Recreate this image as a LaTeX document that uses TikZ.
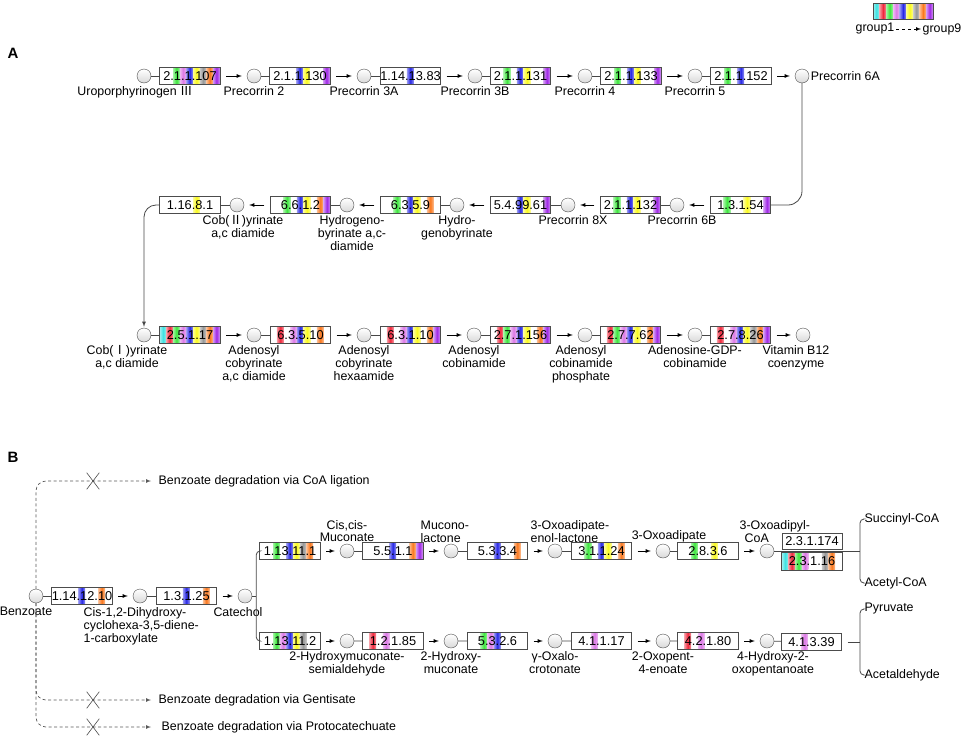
\documentclass[tikz,border=0pt]{standalone}
\usepackage{fontspec}
\setmainfont{Liberation Sans}
\newfontfamily\cjk{Noto Sans CJK SC}
\usetikzlibrary{
    calc,
    arrows,
    shapes.misc,
    positioning
}
\definecolor{grp1}{RGB}{60,225,225}
\definecolor{grp2}{RGB}{240,40,60}
\definecolor{grp3}{RGB}{60,230,60}
\definecolor{grp4}{RGB}{220,120,230}
\definecolor{grp5}{RGB}{40,40,230}
\definecolor{grp6}{RGB}{250,250,30}
\definecolor{grp7}{RGB}{150,150,150}
\definecolor{grp8}{RGB}{250,120,30}
\definecolor{grp9}{RGB}{160,40,230}
\tikzset{cpd/.style={circle, minimum size=14pt, inner sep=0pt, draw=gray!60!black, top color=white, bottom color=gray!30}}
\tikzset{enz/.style={rectangle, minimum width=60pt, minimum height=17pt, inner sep=0pt, fill=white}}
\tikzset{ectext/.style={inner sep=0pt, font=\fontsize{12.8}{13}\selectfont}}
\tikzset{boxedge/.style={draw=gray!60!black, line width=0.8pt}}
\tikzset{lbl/.style={inner sep=1.5pt, align=center, font=\fontsize{12.4}{12.8}\selectfont}}
\tikzset{link/.style={draw=gray!55!black, line width=0.8pt}}
\tikzset{flow/.style={-latex, line width=0.8pt, shorten <=6pt, shorten >=5pt}}
\tikzset{dashline/.style={draw=gray!70!black, line width=0.7pt, dash pattern=on 3pt off 2.5pt}}
\tikzset{xmark/.style={cross out, draw=gray!60!black, line width=0.6pt, minimum width=12pt, minimum height=16pt, inner sep=0pt}}
% enzyme box: name, position, EC number, groups
\newcommand{\ecbox}[4]{%
    \node[enz] (#1) at (#2) {};
    \foreach \gi in {#4}{
        \shade[left color=grp\gi!50!white, right color=grp\gi!50!white, middle color=grp\gi]
        ($(#1.north west)+({(\gi-1)*60/9},0)$) rectangle ++(60/9,17);
    }
    \node[ectext] (#1t) at (#1) {#3};
    \draw[boxedge] (#1.north west) rectangle (#1.south east);
}

\begin{document}
\begin{tikzpicture}[x=1pt, y=-1pt]
    \useasboundingbox (0,0) rectangle (964,739);

    % legend
    \foreach \gi in {1,...,9}
        \shade[left color=grp\gi!50!white, right color=grp\gi!50!white, middle color=grp\gi]
        ({873+(\gi-1)*60/9},3) rectangle ++(60/9,16);
    \draw[boxedge] (873,3) rectangle (933,19);
    \node[lbl, anchor=west] (leg1) at (854,29) {group1};
    \node[lbl, anchor=east] (leg9) at (963,29) {group9};
    \draw[dashed, -latex, line width=0.7pt] (leg1.east) -- (leg9.west);

    \node[font=\fontsize{15}{15}\selectfont\bfseries] (secA) at (13,53) {A};
    \node[font=\fontsize{15}{15}\selectfont\bfseries] (secB) at (13,457) {B};

    % A, first row
    \node[cpd] (uro) at (144,76) {};
    \ecbox{e1}{190,76}{2.1.1.107}{3,4,5,6,7,8,9}
    \node[cpd] (pc2) at (254,76) {};
    \ecbox{e2}{300,76}{2.1.1.130}{5,6,9}
    \node[cpd] (pc3a) at (364,76) {};
    \ecbox{e3}{410.5,76}{1.14.13.83}{5}
    \node[cpd] (pc3b) at (475,76) {};
    \ecbox{e4}{520.5,76}{2.1.1.131}{3,5,6,9}
    \node[cpd] (pc4) at (585,76) {};
    \ecbox{e5}{631,76}{2.1.1.133}{3,5,6,9}
    \node[cpd] (pc5) at (695,76) {};
    \ecbox{e6}{741,76}{2.1.1.152}{3,5}
    \node[cpd] (pc6a) at (802,76) {};

    \node[lbl, below=2pt, xshift=-9pt] (uroL) at (uro.south) {Uroporphyrinogen {\cjk Ⅲ}};
    \node[lbl, below=2pt] (pc2L) at (pc2.south) {Precorrin 2};
    \node[lbl, below=2pt] (pc3aL) at (pc3a.south) {Precorrin 3A};
    \node[lbl, below=2pt] (pc3bL) at (pc3b.south) {Precorrin 3B};
    \node[lbl, below=2pt] (pc4L) at (pc4.south) {Precorrin 4};
    \node[lbl, below=2pt] (pc5L) at (pc5.south) {Precorrin 5};
    \node[lbl, right] (pc6aL) at (pc6a.east) {Precorrin 6A};

    \draw[link] (uro) -- (e1) (pc2) -- (e2) (pc3a) -- (e3)
    (pc3b) -- (e4) (pc4) -- (e5) (pc5) -- (e6);
    \draw[flow] (e1.east) -- (pc2.west);
    \draw[flow] (e2.east) -- (pc3a.west);
    \draw[flow] (e3.east) -- (pc3b.west);
    \draw[flow] (e4.east) -- (pc4.west);
    \draw[flow] (e5.east) -- (pc5.west);
    \draw[flow] (e6.east) -- (pc6a.west);

    % A, second row
    \ecbox{e7}{740.5,205}{1.3.1.54}{3,6,9}
    \node[cpd] (pc6b) at (677,205) {};
    \ecbox{e8}{630.5,205}{2.1.1.132}{3,5,6,9}
    \node[cpd] (pc8x) at (568,205) {};
    \ecbox{e9}{520.5,205}{5.4.99.61}{5,6,9}
    \node[cpd] (hby) at (457,205) {};
    \ecbox{e10}{410.5,205}{6.3.5.9}{3,5,6,8}
    \node[cpd] (hbyd) at (347,205) {};
    \ecbox{e11}{300.5,205}{6.6.1.2}{3,5,6,8,9}
    \node[cpd] (cob2) at (237,205) {};
    \ecbox{e12}{190,205}{1.16.8.1}{6}

    \node[lbl, below=2pt, xshift=5pt] (pc6bL) at (pc6b.south) {Precorrin 6B};
    \node[lbl, below=2pt, xshift=5pt] (pc8xL) at (pc8x.south) {Precorrin 8X};
    \node[lbl, below=2pt] (hbyL) at (hby.south) {Hydro-\\genobyrinate};
    \node[lbl, below=2pt, xshift=5pt] (hbydL) at (hbyd.south) {Hydrogeno-\\byrinate a,c-\\diamide};
    \node[lbl, below=2pt, xshift=6pt] (cob2L) at (cob2.south) {Cob({\cjk Ⅱ})yrinate\\a,c diamide};

    \draw[link, rounded corners=14pt] (pc6a.south) |- (e7.east);
    \draw[link] (pc6b) -- (e8) (pc8x) -- (e9) (hby) -- (e10)
    (hbyd) -- (e11) (cob2) -- (e12);
    \draw[flow] (e7.west) -- (pc6b.east);
    \draw[flow] (e8.west) -- (pc8x.east);
    \draw[flow] (e9.west) -- (hby.east);
    \draw[flow] (e10.west) -- (hbyd.east);
    \draw[flow] (e11.west) -- (cob2.east);

    % A, third row
    \node[cpd] (cob1) at (144,335) {};
    \ecbox{e13}{190,335}{2.5.1.17}{1,2,3,4,5,6,7,8,9}
    \node[cpd] (ado1) at (254,335) {};
    \ecbox{e14}{300.5,335}{6.3.5.10}{2,4,5,6,8}
    \node[cpd] (ado2) at (364,335) {};
    \ecbox{e15}{410.5,335}{6.3.1.10}{2,4,5,6,8,9}
    \node[cpd] (ado3) at (474,335) {};
    \ecbox{e16}{520.5,335}{2.7.1.156}{2,3,4,5,6,8,9}
    \node[cpd] (ado4) at (585,335) {};
    \ecbox{e17}{630.5,335}{2.7.7.62}{2,3,4,5,6,8,9}
    \node[cpd] (agdp) at (695,335) {};
    \ecbox{e18}{740.5,335}{2.7.8.26}{2,4,5,6,7,8,9}
    \node[cpd] (b12) at (803,335) {};

    \node[lbl, below=2pt, xshift=-17pt] (cob1L) at (cob1.south) {Cob({\cjk Ⅰ})yrinate\\a,c diamide};
    \node[lbl, below=2pt] (ado1L) at (ado1.south) {Adenosyl\\cobyrinate\\a,c diamide};
    \node[lbl, below=2pt] (ado2L) at (ado2.south) {Adenosyl\\cobyrinate\\hexaamide};
    \node[lbl, below=2pt] (ado3L) at (ado3.south) {Adenosyl\\cobinamide};
    \node[lbl, below=2pt, xshift=-4pt] (ado4L) at (ado4.south) {Adenosyl\\cobinamide\\phosphate};
    \node[lbl, below=2pt] (agdpL) at (agdp.south) {Adenosine-GDP-\\cobinamide};
    \node[lbl, below=2pt, xshift=-7pt] (b12L) at (b12.south) {Vitamin B12\\coenzyme};

    \draw[link, -latex, rounded corners=12pt, shorten >=1pt] (e12.west) -| (cob1.north);
    \draw[link] (cob1) -- (e13) (ado1) -- (e14) (ado2) -- (e15)
    (ado3) -- (e16) (ado4) -- (e17) (agdp) -- (e18);
    \draw[flow] (e13.east) -- (ado1.west);
    \draw[flow] (e14.east) -- (ado2.west);
    \draw[flow] (e15.east) -- (ado3.west);
    \draw[flow] (e16.east) -- (ado4.west);
    \draw[flow] (e17.east) -- (agdp.west);
    \draw[flow] (e18.east) -- (b12.west);

    % B, benzoate to catechol
    \node[cpd] (bz) at (36,596) {};
    \ecbox{e19}{82,596}{1.14.12.10}{5,8}
    \node[cpd] (cdh) at (140,596) {};
    \ecbox{e20}{186.5,596}{1.3.1.25}{5,8}
    \node[cpd] (cat) at (245,596) {};

    \node[lbl, below=2.5pt, xshift=-10pt] (bzL) at (bz.south) {Benzoate};
    \node[lbl, anchor=north west, align=left] (cdhL) at (82,606) {Cis-1,2-Dihydroxy-\\cyclohexa-3,5-diene-\\1-carboxylate};
    \node[lbl, below=2.5pt, xshift=-7pt] (catL) at (cat.south) {Catechol};

    \draw[link] (bz) -- (e19) (cdh) -- (e20);
    \draw[flow] (e19.east) -- (cdh.west);
    \draw[flow] (e20.east) -- (cat.west);

    % B, ortho cleavage
    \ecbox{e21}{290,551}{1.13.11.1}{3,5,6,7,8}
    \node[cpd] (ccm) at (347,551) {};
    \ecbox{e22}{393,551}{5.5.1.1}{5,8,9}
    \node[cpd] (mlac) at (451,551) {};
    \ecbox{e23}{497.5,551}{5.3.3.4}{5,8}
    \node[cpd] (oel) at (555,551) {};
    \ecbox{e24}{601.5,551}{3.1.1.24}{3,5,6,8}
    \node[cpd] (oxa) at (663,551) {};
    \ecbox{e25}{708,551}{2.8.3.6}{3,6}
    \node[cpd] (oxcoa) at (767,551) {};
    \coordinate (j1) at (860,551);
    \draw[link] (oxcoa) -- (j1);
    \node[enz, draw=gray!60!black, line width=0.8pt, minimum height=16pt, font=\fontsize{12.8}{13}\selectfont] (e26) at (812,541) {2.3.1.174};
    \ecbox{e27}{812,561.5}{2.3.1.16}{1,2,3,4,7,8}

    \node[lbl, above] (ccmL) at (ccm.north) {Cis,cis-\\Muconate};
    \node[lbl, anchor=south west, align=left] (mlacL) at (419,544) {Mucono-\\lactone};
    \node[lbl, anchor=south west, align=left] (oelL) at (529,544) {3-Oxoadipate-\\enol-lactone};
    \node[lbl, above, xshift=6pt] (oxaL) at (oxa.north) {3-Oxoadipate};
    \node[lbl, anchor=south west, align=left] (oxcoaL) at (738,544) {3-Oxoadipyl-\\\hspace*{5pt}CoA};
    \node[lbl, anchor=west] (suc) at (863,519) {Succinyl-CoA};
    \node[lbl, anchor=west] (acet) at (863,583) {Acetyl-CoA};

    \draw[link] (ccm) -- (e22) (mlac) -- (e23) (oel) -- (e24) (oxa) -- (e25);
    \draw[flow] (e21.east) -- (ccm.west);
    \draw[flow] (e22.east) -- (mlac.west);
    \draw[flow] (e23.east) -- (oel.west);
    \draw[flow] (e24.east) -- (oxa.west);
    \draw[flow] (e25.east) -- (oxcoa.west);
    \draw[link, rounded corners=4pt] (suc.west) -| (j1) |- (acet.west);

    % B, meta cleavage
    \ecbox{e28}{290,641}{1.13.11.2}{3,4,5,6,7}
    \node[cpd] (hms) at (347,641) {};
    \ecbox{e29}{393,641}{1.2.1.85}{2,4}
    \node[cpd] (hm) at (451,641) {};
    \ecbox{e30}{497.5,641}{5.3.2.6}{3,4,5}
    \node[cpd] (goc) at (555,641) {};
    \ecbox{e31}{601.5,641}{4.1.1.17}{4}
    \node[cpd] (ope) at (663,641) {};
    \ecbox{e32}{708,641}{4.2.1.80}{2,4}
    \node[cpd] (hop) at (767,641) {};
    \ecbox{e33}{811.5,642}{4.1.3.39}{4}
    \coordinate (j2) at (860,642);

    \draw[link, rounded corners=4pt] (e21.west) -| ($(cat.east)+(4,0)$) |- (e28.west);
    \draw[link] (cat.east) -- ++(4,0);

    \node[lbl, below=2pt] (hmsL) at (hms.south) {2-Hydroxymuconate-\\semialdehyde};
    \node[lbl, below=2pt] (hmL) at (hm.south) {2-Hydroxy-\\muconate};
    \node[lbl, below=2pt] (gocL) at (goc.south) {γ-Oxalo-\\crotonate};
    \node[lbl, below=2pt] (opeL) at (ope.south) {2-Oxopent-\\4-enoate};
    \node[lbl, below=2pt, xshift=6pt] (hopL) at (hop.south) {4-Hydroxy-2-\\oxopentanoate};
    \node[lbl, anchor=west] (pyr) at (863,609) {Pyruvate};
    \node[lbl, anchor=west] (acd) at (863,675) {Acetaldehyde};

    \draw[link] (hms) -- (e29) (hm) -- (e30) (goc) -- (e31)
    (ope) -- (e32) (hop) -- (e33);
    \draw[flow] (e28.east) -- (hms.west);
    \draw[flow] (e29.east) -- (hm.west);
    \draw[flow] (e30.east) -- (goc.west);
    \draw[flow] (e31.east) -- (ope.west);
    \draw[flow] (e32.east) -- (hop.west);
    \draw[link, shorten <=6pt] (e33.east) -- (j2);
    \draw[link, rounded corners=4pt] (pyr.west) -| (j2) |- (acd.west);

    % B, blocked routes
    \node[lbl, anchor=west] (pcoa) at (157,481) {Benzoate degradation via CoA ligation};
    \node[lbl, anchor=west] (pgen) at (157,700) {Benzoate degradation via Gentisate};
    \node[lbl, anchor=west] (ppro) at (160,727) {Benzoate degradation via Protocatechuate};
    \draw[dashline, -latex, rounded corners=10pt, shorten >=6pt] (bz.north) |- (pcoa.west);
    \draw[dashline, -latex, rounded corners=10pt, shorten >=6pt] (bz.south) |- (pgen.west);
    \draw[dashline, -latex, rounded corners=10pt, shorten >=9pt] (bz.south) |- (ppro.west);
    \node[xmark] (x1) at (93,481) {};
    \node[xmark] (x2) at (93,700) {};
    \node[xmark] (x3) at (93,727) {};
\end{tikzpicture}
\end{document}
